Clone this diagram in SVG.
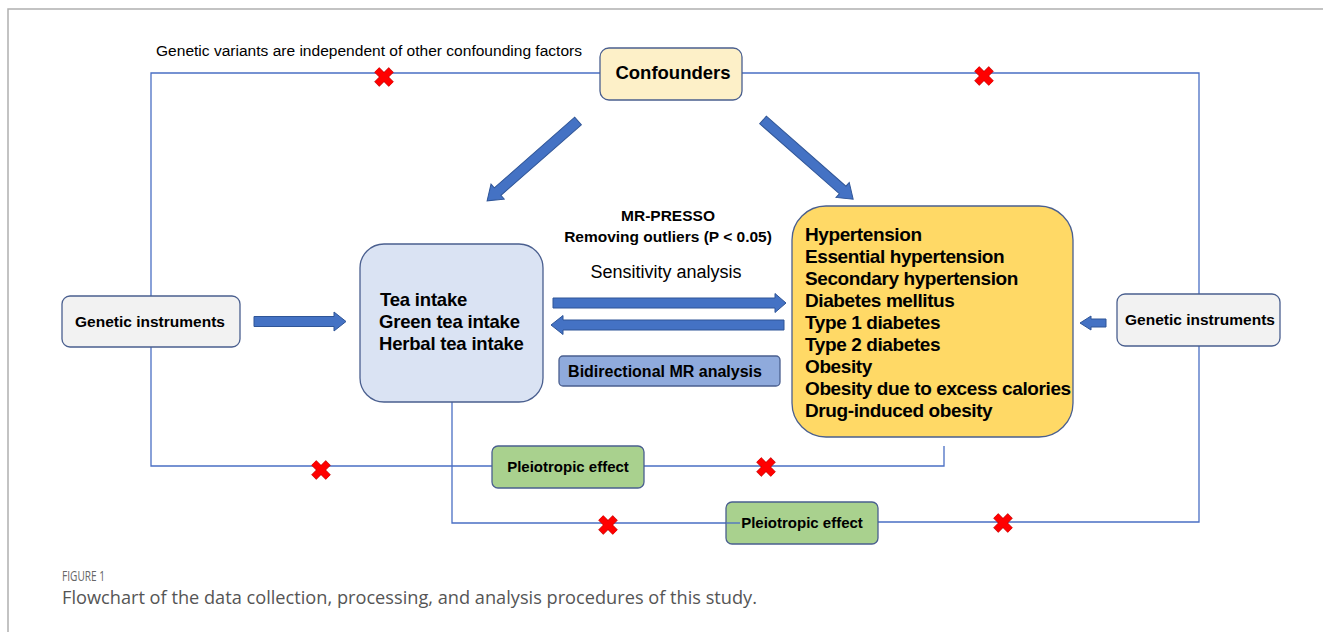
<svg xmlns="http://www.w3.org/2000/svg" width="1323" height="632" viewBox="0 0 1323 632">
<style>
.b{font-family:"Liberation Sans",Arial,sans-serif;font-weight:bold;fill:#000}
.n{font-family:"Liberation Sans",Arial,sans-serif;fill:#000}
.ln{fill:none;stroke:#4a6fc4;stroke-width:1.3}
.ar{fill:#4472c4;stroke:#2f5597;stroke-width:1}
.bx{stroke:#4a5f8f;stroke-width:1.3}
</style>
<defs>
<g id="x">
<rect x="-10" y="-3.3" width="20" height="6.6" transform="rotate(45)" fill="#ff0000" stroke="#b00000" stroke-width="0.6"/>
<rect x="-10" y="-3.3" width="20" height="6.6" transform="rotate(-45)" fill="#ff0000" stroke="#b00000" stroke-width="0.6"/>
<rect x="-10" y="-2.7" width="20" height="5.4" transform="rotate(45)" fill="#ff0000"/>
</g>
</defs>
<rect width="1323" height="632" fill="#fff"/>
<path d="M8,632 V9 H1323" fill="none" stroke="#b0b0b0" stroke-width="1.5"/>

<g id="connectors">
<path class="ln" d="M600,73 H151 V296 M151,347 V466 H492"/>
<path class="ln" d="M742,73 H1199 V294 M1199,346 V522 H878"/>
<path class="ln" d="M644,466 H944 V446"/>
<path class="ln" d="M452,402 V523 H726"/>
<polygon class="ar" points="254,316.5 334,316.5 334,312 346,321.5 334,331 334,326.5 254,326.5"/>
<polygon class="ar" points="553,298 775,298 775,293.5 786,303 775,312.5 775,308 553,308"/>
<polygon class="ar" points="784,320 563,320 563,315.5 551,325 563,334.5 563,330 784,330"/>
<polygon class="ar" points="1106,319 1091,319 1091,316 1080,323 1091,330 1091,327 1106,327"/>
<polygon class="ar" transform="translate(578,121) rotate(138.7)" points="0,-5 107,-5 107,-10 121,0 107,10 107,5 0,5"/>
<polygon class="ar" transform="translate(763,120) rotate(41.3)" points="0,-5 106,-5 106,-10 120,0 106,10 106,5 0,5"/>
<use href="#x" x="384" y="77"/>
<use href="#x" x="984" y="76"/>
<use href="#x" x="321" y="470"/>
<use href="#x" x="766" y="467"/>
<use href="#x" x="608" y="525"/>
<use href="#x" x="1003" y="523"/>
</g>

<text class="n" x="156" y="56" font-size="15.5" textLength="426" lengthAdjust="spacingAndGlyphs">Genetic variants are independent of other confounding factors</text>

<g id="confounders">
<rect class="bx" x="600" y="48" width="142" height="52" rx="9" fill="#fdf0c8"/>
<text class="b" x="673" y="79" font-size="18.5" text-anchor="middle">Confounders</text>
</g>

<g id="gi-left">
<rect class="bx" x="62" y="296" width="178" height="51" rx="8" fill="#f2f2f2"/>
<text class="b" x="150" y="327" font-size="15.5" text-anchor="middle">Genetic instruments</text>
</g>

<g id="tea">
<rect class="bx" x="360" y="244" width="183" height="158" rx="24" fill="#dae3f3"/>
<text class="b" font-size="18.5" letter-spacing="-0.2"><tspan x="380" y="306">Tea intake</tspan><tspan x="379" y="328">Green tea intake</tspan><tspan x="379" y="350">Herbal tea intake</tspan></text>
</g>

<g id="mr-presso">
<text class="b" x="668" y="221" font-size="15.5" text-anchor="middle">MR-PRESSO</text>
<text class="b" x="668" y="242" font-size="15.5" text-anchor="middle">Removing outliers (P  &lt; 0.05)</text>
</g>
<text class="n" x="666" y="278" font-size="18" text-anchor="middle">Sensitivity analysis</text>

<g id="bidirectional">
<rect class="bx" x="559" y="356" width="221" height="30" rx="4" fill="#8faadc"/>
<text class="b" x="665" y="377" font-size="16" text-anchor="middle">Bidirectional MR analysis</text>
</g>

<g id="outcomes">
<rect class="bx" x="792" y="206" width="281" height="231" rx="34" fill="#ffd966"/>
<text class="b" font-size="19" letter-spacing="-0.4">
<tspan x="805" y="241">Hypertension</tspan>
<tspan x="805" y="263">Essential hypertension</tspan>
<tspan x="805" y="285">Secondary hypertension</tspan>
<tspan x="805" y="307">Diabetes mellitus</tspan>
<tspan x="805" y="329">Type 1 diabetes</tspan>
<tspan x="805" y="351">Type 2 diabetes</tspan>
<tspan x="805" y="373">Obesity</tspan>
<tspan x="805" y="395">Obesity due to excess calories</tspan>
<tspan x="805" y="417">Drug-induced obesity</tspan>
</text>
</g>

<g id="gi-right">
<rect class="bx" x="1117" y="294" width="163" height="52" rx="8" fill="#f2f2f2"/>
<text class="b" x="1200" y="325" font-size="15.5" text-anchor="middle">Genetic instruments</text>
</g>

<g id="pleio-1">
<rect class="bx" x="492" y="446" width="152" height="42" rx="6" fill="#a9d18e"/>
<text class="b" x="568" y="472" font-size="15" text-anchor="middle">Pleiotropic effect</text>
</g>

<g id="pleio-2">
<rect class="bx" x="726" y="502" width="152" height="42" rx="6" fill="#a9d18e"/>
<path class="ln" d="M726,523 H740"/>
<text class="b" x="802" y="528" font-size="15" text-anchor="middle">Pleiotropic effect</text>
</g>

<text x="62" y="581" font-family="'Open Sans',sans-serif" font-size="14.5" fill="#666" textLength="43" lengthAdjust="spacingAndGlyphs">FIGURE 1</text>
<text x="62" y="604" font-family="'Open Sans',sans-serif" font-size="17.5" fill="#555" textLength="695" lengthAdjust="spacingAndGlyphs">Flowchart of the data collection, processing, and analysis procedures of this study.</text>
</svg>
